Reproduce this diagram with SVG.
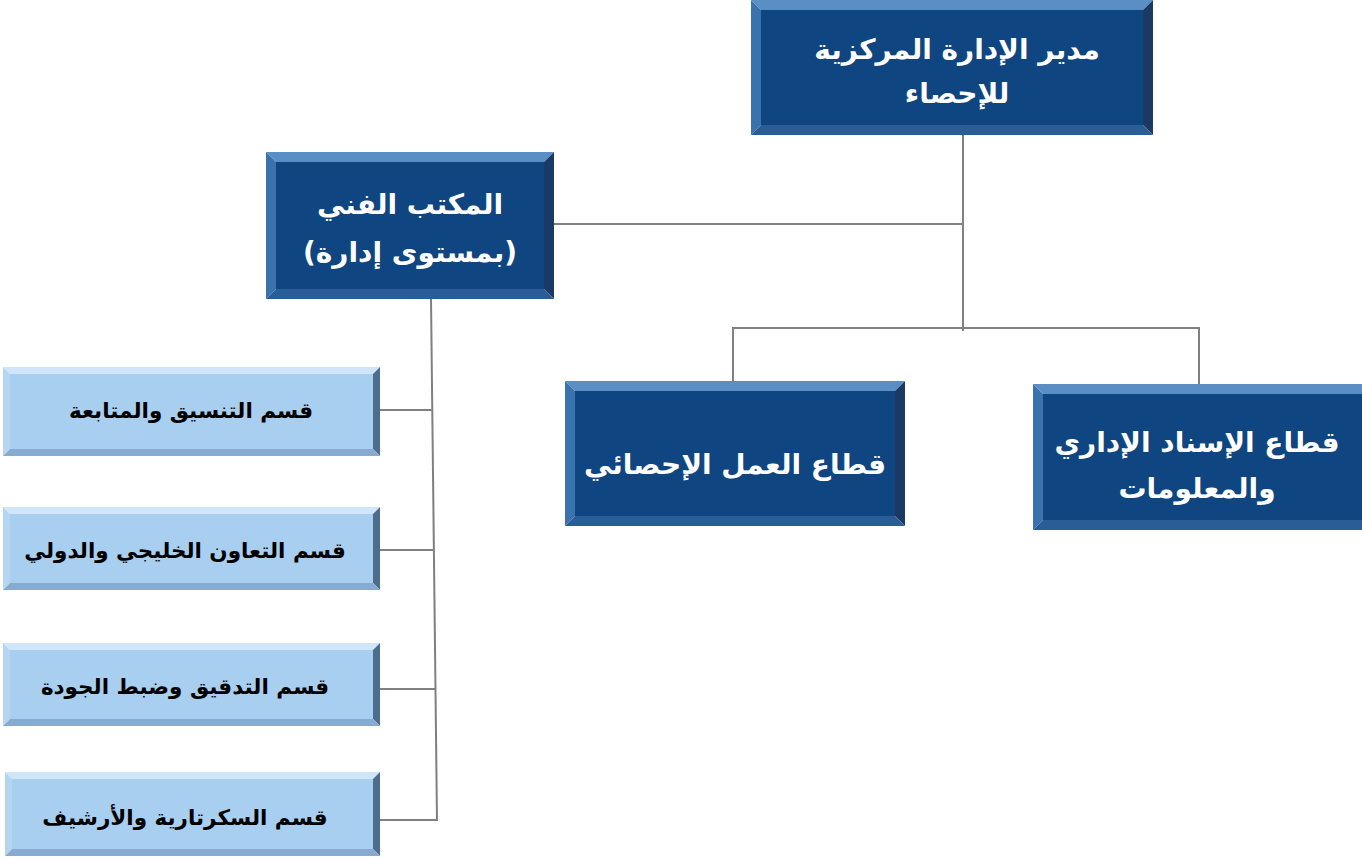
<svg xmlns="http://www.w3.org/2000/svg" width="1362" height="860" viewBox="0 0 1362 860">
<style>
.face-d{fill:#0f4580}
.face-l{fill:#a9cff0}
.bt-d{fill:#5a8fc6}.bl-d{fill:#3a72ad}.br-d{fill:#1b3a63}.bb-d{fill:#2a5c95}
.bt-l{fill:#cfe5f9}.bl-l{fill:#b4d6f3}.br-l{fill:#4d6d8e}.bb-l{fill:#86abcf}
.tw{fill:#ffffff;font-family:"DejaVu Sans","Noto Sans",sans-serif;font-weight:bold;font-size:28px;text-anchor:middle}
.tb{fill:#000000;font-family:"DejaVu Sans","Noto Sans",sans-serif;font-weight:bold;font-size:21.5px;text-anchor:middle}
.conn{stroke:#808080;stroke-width:2;fill:none}
</style>
<rect width="1362" height="860" fill="#ffffff"/>
<g id="connectors">
<line class="conn" x1="963" y1="135" x2="963" y2="331"/>
<line class="conn" x1="554" y1="224" x2="963" y2="224"/>
<polyline class="conn" points="733,381 733,328 1199,328 1199,384"/>
<line class="conn" x1="431" y1="299" x2="437" y2="821"/>
<line class="conn" x1="380" y1="410" x2="432" y2="410"/>
<line class="conn" x1="380" y1="550" x2="434" y2="550"/>
<line class="conn" x1="380" y1="689" x2="435" y2="689"/>
<line class="conn" x1="380" y1="820" x2="437" y2="820"/>
</g>
<g id="n-director">
<polygon class="bt-d" points="751,0 1153,0 1143,10 761,10"/>
<polygon class="bl-d" points="751,0 761,10 761,125 751,135"/>
<polygon class="br-d" points="1153,0 1153,135 1143,125 1143,10"/>
<polygon class="bb-d" points="751,135 761,125 1143,125 1153,135"/>
<rect class="face-d" x="761" y="10" width="382" height="115"/>
<text class="tw" x="957" y="59" direction="rtl">مدير الإدارة المركزية</text>
<text class="tw" x="957" y="103" direction="rtl">للإحصاء</text>
</g>
<g id="n-techoffice">
<polygon class="bt-d" points="266,152 554,152 544,162 276,162"/>
<polygon class="bl-d" points="266,152 276,162 276,289 266,299"/>
<polygon class="br-d" points="554,152 554,299 544,289 544,162"/>
<polygon class="bb-d" points="266,299 276,289 544,289 554,299"/>
<rect class="face-d" x="276" y="162" width="268" height="127"/>
<text class="tw" x="410" y="214" direction="rtl">المكتب الفني</text>
<text class="tw" x="410" y="262" direction="rtl">(بمستوى إدارة)</text>
</g>
<g id="n-statwork">
<polygon class="bt-d" points="565,381 905,381 895,391 575,391"/>
<polygon class="bl-d" points="565,381 575,391 575,516 565,526"/>
<polygon class="br-d" points="905,381 905,526 895,516 895,391"/>
<polygon class="bb-d" points="565,526 575,516 895,516 905,526"/>
<rect class="face-d" x="575" y="391" width="320" height="125"/>
<text class="tw" x="735" y="474" direction="rtl">قطاع العمل الإحصائي</text>
</g>
<g id="n-adminsupport">
<polygon class="bt-d" points="1033,384 1362,384 1362,394 1043,394"/>
<polygon class="bl-d" points="1033,384 1043,394 1043,520 1033,530"/>
<polygon class="bb-d" points="1033,530 1043,520 1362,520 1362,530"/>
<rect class="face-d" x="1043" y="394" width="319" height="126"/>
<text class="tw" x="1197" y="452" direction="rtl">قطاع الإسناد الإداري</text>
<text class="tw" x="1197" y="498" direction="rtl">والمعلومات</text>
</g>
<g id="n-coord">
<polygon class="bt-l" points="3,367 380,367 373,374 10,374"/>
<polygon class="bl-l" points="3,367 10,374 10,449 3,456"/>
<polygon class="br-l" points="380,367 380,456 373,449 373,374"/>
<polygon class="bb-l" points="3,456 10,449 373,449 380,456"/>
<rect class="face-l" x="10" y="374" width="363" height="75"/>
<text class="tb" x="191" y="418" direction="rtl">قسم التنسيق والمتابعة</text>
</g>
<g id="n-gulf">
<polygon class="bt-l" points="3,507 380,507 373,514 10,514"/>
<polygon class="bl-l" points="3,507 10,514 10,583 3,590"/>
<polygon class="br-l" points="380,507 380,590 373,583 373,514"/>
<polygon class="bb-l" points="3,590 10,583 373,583 380,590"/>
<rect class="face-l" x="10" y="514" width="363" height="69"/>
<text class="tb" x="185" y="558" direction="rtl">قسم التعاون الخليجي والدولي</text>
</g>
<g id="n-audit">
<polygon class="bt-l" points="3,643 380,643 373,650 10,650"/>
<polygon class="bl-l" points="3,643 10,650 10,719 3,726"/>
<polygon class="br-l" points="380,643 380,726 373,719 373,650"/>
<polygon class="bb-l" points="3,726 10,719 373,719 380,726"/>
<rect class="face-l" x="10" y="650" width="363" height="69"/>
<text class="tb" x="185" y="694" direction="rtl">قسم التدقيق وضبط الجودة</text>
</g>
<g id="n-secretariat">
<polygon class="bt-l" points="5,772 380,772 373,779 12,779"/>
<polygon class="bl-l" points="5,772 12,779 12,849 5,856"/>
<polygon class="br-l" points="380,772 380,856 373,849 373,779"/>
<polygon class="bb-l" points="5,856 12,849 373,849 380,856"/>
<rect class="face-l" x="12" y="779" width="361" height="70"/>
<text class="tb" x="185" y="825" direction="rtl">قسم السكرتارية والأرشيف</text>
</g>
</svg>
